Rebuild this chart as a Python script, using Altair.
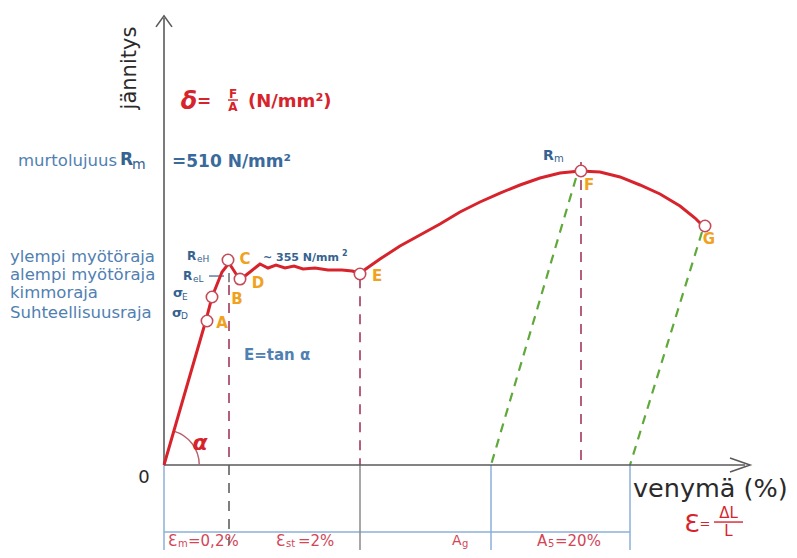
import altair as alt
import pandas as pd

# ---------------- data (x: schematic strain units, y: stress N/mm²) ----------------
curve_strain = [0, 4.2, 4.8, 5.8, 6.5, 7.4, 7.7, 8.6, 9.6, 10.4, 11.2, 12.1, 13.0, 13.9, 15.1, 16.4, 17.8, 18.8, 19.6,
                21.6, 23.6, 25.6, 27.6, 29.6, 31.6, 33.6, 35.6, 37.6, 39.6, 41.6,
                43.6, 45.6, 47.6, 49.6, 51.6, 53.1, 54.0]
curve_stress = [0, 251.5, 291.4, 334.8, 350.4, 326.1, 322.6, 334.8, 348.7, 341.7, 346.9, 341.7, 345.2, 340.0, 341.7, 338.2, 338.2, 336.5, 333.0,
                357.3, 379.9, 399.0, 418.0, 438.9, 456.2, 471.8, 485.7, 497.8, 506.5, 510.0,
                508.2, 499.6, 485.7, 470.1, 449.3, 428.4, 412.8]

point_names = ["A", "B", "C", "D", "E", "F", "G"]
point_strain = [4.3, 4.8, 6.4, 7.6, 19.6, 41.7, 54.1]
point_stress = [249.8, 291.4, 355.6, 322.6, 331.3, 510.0, 414.6]
letter_strain = [5.8, 7.3, 8.1, 9.4, 21.3, 42.5, 54.5]
letter_stress = [246.3, 287.9, 357.3, 315.7, 327.8, 485.7, 392.0]

# guide segments
maroon_x = [6.5, 19.6, 41.7]
maroon_top = [312.2, 324.0, 525.6]
green_x1 = [41.2, 53.8]
green_y1 = [497.8, 404.2]
green_x2 = [32.7, 46.6]
blue_vx = [0, 32.7, 46.6]
blue_vbottom = [-147.4, -147.4, -147.4]
blue_h_y = -116.2
blue_h_x2 = 46.6

# axis extents
y_axis_top = 775.4
x_axis_end = 58.1

# text labels
left_labels = ["murtolujuus", "ylempi myötöraja", "alempi myötöraja", "kimmoraja", "Suhteellisuusraja"]
left_x = [-14.6, -15.4, -15.4, -15.4, -15.4]
left_y = [527.3, 360.8, 329.6, 298.4, 263.7]

XS = alt.Scale(domain=[-15.6, 62.5], nice=False, zero=False)
YS = alt.Scale(domain=[-147.4, 792.7], nice=False, zero=False)
FONT = "DejaVu Sans"

RED = "#d7232b"
PINK = "#d24656"
BLUE_LAB = "#5080b2"
BLUE_SYM = "#35628f"
ORANGE = "#f0a21e"
DARK = "#2a2a2a"
AXIS = "#5a5a5a"


def enc_xy():
    return dict(x=alt.X("x:Q", scale=XS, axis=None), y=alt.Y("y:Q", scale=YS, axis=None))


def seg_layer(x, y, x2, y2, color, width, dash=None):
    df = pd.DataFrame(dict(x=x, y=y, x2=x2, y2=y2))
    kw = dict(color=color, strokeWidth=width)
    if dash:
        kw["strokeDash"] = dash
    return alt.Chart(df).mark_rule(**kw).encode(x2="x2:Q", y2="y2:Q", **enc_xy())


def text_layer(x, y, t, s, c, **kw):
    df = pd.DataFrame(dict(x=x, y=y, t=t, s=s, c=c))
    return alt.Chart(df).mark_text(font=FONT, baseline="middle", **kw).encode(
        text="t:N", size=alt.Size("s:Q", scale=None), color=alt.Color("c:N", scale=None), **enc_xy())


def poly_layer(x, y, g, color, width):
    df = pd.DataFrame(dict(x=x, y=y, g=g, o=list(range(len(x)))))
    return alt.Chart(df).mark_line(color=color, strokeWidth=width).encode(
        detail="g:N", order="o:Q", **enc_xy())


layers = []

# lines below axis (blue frame)
layers.append(seg_layer(blue_vx, [0, 0, 0], blue_vx, blue_vbottom, "#8cb0d8", 1.5))
layers.append(seg_layer([0], [blue_h_y], [blue_h_x2], [blue_h_y], "#8cb0d8", 1.5))
layers.append(seg_layer([19.6], [0], [19.6], [-147.4], "#8a8a8a", 1.5))
layers.append(seg_layer([6.5], [0], [6.5], [-138.8], "#555555", 1.5, [10, 8]))

# maroon dashed verticals
layers.append(seg_layer(maroon_x, maroon_top, maroon_x, [0, 0, 0], "#a3395a", 1.6, [10, 8]))
layers.append(seg_layer([6.5], [333.0], [6.5], [317.0], "#444444", 1.2))
# green dashed unloading lines
layers.append(seg_layer(green_x1, green_y1, green_x2, [0, 0], "#5fa83a", 2.2, [9, 7]))

# axes
layers.append(seg_layer([0, 0], [0, 0], [0, x_axis_end], [y_axis_top, 0], AXIS, 1.6))
layers.append(poly_layer([-0.8, 0, 0.8, 56.6, 58.6, 56.6], [760.0, 779.0, 760.0, 12.1, 0, -12.1],
                         ["y", "y", "y", "x", "x", "x"], AXIS, 1.6))

# angle arc
layers.append(alt.Chart(pd.DataFrame(dict(x=[0], y=[0]))).mark_arc(
    radius=36, radius2=34.6, theta=0.28, theta2=1.5708, color="#b8606e").encode(**enc_xy()))

# small dash of ReL and fraction bars
layers.append(seg_layer([4.5], [327.8], [6.0], [327.8], BLUE_SYM, 1.2))
layers.append(seg_layer([6.4, 55.0], [633.1, -98.9], [7.4, 57.9], [633.1, -98.9], RED, 1.4))

# stress-strain curve
curve_df = pd.DataFrame(dict(x=curve_strain, y=curve_stress, o=list(range(len(curve_strain)))))
layers.append(alt.Chart(curve_df).mark_line(color=RED, strokeWidth=3).encode(order="o:Q", **enc_xy()))

# points
pts_df = pd.DataFrame(dict(x=point_strain, y=point_stress, n=point_names))
layers.append(alt.Chart(pts_df).mark_point(shape="circle", filled=True, fill="white", stroke="#c44a58",
                                           strokeWidth=1.6, size=130, opacity=1).encode(**enc_xy()))

# ---- texts ----
BY = -131.0   # bottom label row
BS = -136.5   # subscripts of bottom row
nl_t = left_labels + ["m", "eH", "eL", "E", "D", "m", "venymä (%)",
                      "Ɛ", "m", "=0,2%", "Ɛ", "st", "=2%", "A", "g", "A", "5", "=20%"]
nl_x = left_x + [-3.2, 3.3, 2.9, 1.8, 1.7, 39.0, 46.9,
                 0.4, 1.4, 2.4, 11.2, 12.2, 13.4, 28.8, 29.8, 37.3, 38.4, 39.1]
nl_y = left_y + [521.0, 357.3, 322.6, 291.4, 258.5, 530.0, -41.6,
                 BY, BS, BY, BY, BS, BY, BY, BS, BY, BS, BY]
nl_s = [16.5] * 5 + [14, 9, 9, 9, 9, 10, 25.5,
                     15, 10, 15, 15, 10, 15, 14, 10, 15, 10, 15]
nl_c = [BLUE_LAB] * 5 + [BLUE_SYM] * 6 + [DARK] + [PINK] * 11
layers.append(text_layer(nl_x, nl_y, nl_t, nl_s, nl_c, align="left"))

# bold left
bl_t = ["R", "=510 N/mm²", "R", "R", "σ", "σ", "R", "~ 355 N/mm", "2", "E=tan α", "(N/mm²)"]
bl_x = [-4.4, 0.8, 2.3, 1.9, 0.9, 0.8, 37.9, 9.9, 17.8, 8.0, 8.4]
bl_y = [529.1, 525.6, 362.5, 327.8, 298.4, 263.7, 536.0, 359.1, 366.0, 190.8, 629.7]
bl_s = [17, 17, 12, 12, 13, 13, 14, 11, 8, 15, 18]
bl_c = [BLUE_SYM, "#3a6a9c", BLUE_SYM, BLUE_SYM, BLUE_SYM, BLUE_SYM, BLUE_SYM, BLUE_SYM, BLUE_SYM, BLUE_LAB, RED]
layers.append(text_layer(bl_x, bl_y, bl_t, bl_s, bl_c, align="left", fontWeight="bold"))

# bold center
bc_t = point_names + ["=", "F", "A"]
bc_x = letter_strain + [4.0, 6.9, 6.9]
bc_y = letter_stress + [629.7, 643.5, 620.9]
bc_s = [15] * 7 + [17, 12, 12]
bc_c = [ORANGE] * 7 + [RED] * 3
layers.append(text_layer(bc_x, bc_y, bc_t, bc_s, bc_c, align="center", fontWeight="bold"))

# normal center
nc_t = ["0", "Ɛ", "=", "ΔL", "L"]
nc_x = [-2.0, 52.8, 54.1, 56.45, 56.45]
nc_y = [-22.5, -102.4, -102.4, -83.3, -114.5]
nc_s = [18, 25, 13, 15, 15]
nc_c = [DARK, RED, RED, RED, RED]
layers.append(text_layer(nc_x, nc_y, nc_t, nc_s, nc_c, align="center"))

# bold italic
layers.append(text_layer([2.5, 3.6], [629.7, 38.2], ["δ", "α"], [24, 22], [RED, RED],
                         align="center", fontWeight="bold", fontStyle="italic"))

# rotated axis title
layers.append(text_layer([-3.4], [688.6], ["jännitys"], [21], [DARK], align="center", angle=270))

chart = alt.layer(*layers).properties(
    width=781, height=542, padding=0, autosize="none"
).configure_view(stroke=None)

chart.save("out.html", embed_options={"renderer": "svg", "actions": False})
